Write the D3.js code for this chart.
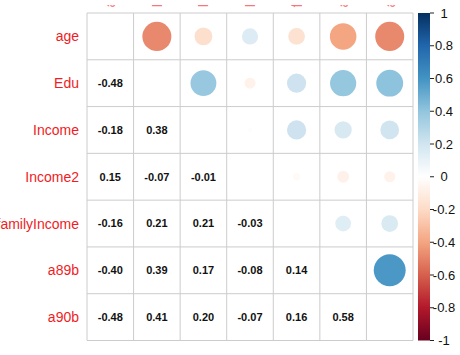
<!DOCTYPE html>
<html>
<head>
<meta charset="utf-8">
<script src="https://cdn.jsdelivr.net/npm/d3@7"></script>
<style>
  html, body { margin: 0; padding: 0; background: #fff; }
  svg { display: block; font-family: "Liberation Sans", Arial, sans-serif; }
</style>
</head>
<body>
<svg id="chart" width="460" height="355"></svg>
<script>
// Variables in the correlation matrix (row and column order)
const variables = ["age", "Edu", "Income", "Income2", "familyIncome", "a89b", "a90b"];

// Lower triangle of the correlation matrix, one row per variable
const lowerRows = [
  [],
  [-0.48],
  [-0.18, 0.38],
  [0.15, -0.07, -0.01],
  [-0.16, 0.21, 0.21, -0.03],
  [-0.40, 0.39, 0.17, -0.08, 0.14],
  [-0.48, 0.41, 0.20, -0.07, 0.16, 0.58]
];

// Colour legend ticks
const legendTicks = [1, 0.8, 0.6, 0.4, 0.2, 0, -0.2, -0.4, -0.6, -0.8, -1];
const legendLabels = ["1", "0.8", "0.6", "0.4", "0.2", "0", "-0.2", "-0.4", "-0.6", "-0.8", "-1"];

// Diverging red-blue palette, from -1 to 1
const palette = ["#67001F", "#B2182B", "#D6604D", "#F4A582", "#FDDBC7", "#FFFFFF",
                 "#D1E5F0", "#92C5DE", "#4393C3", "#2166AC", "#053061"];

const n = variables.length;
const value = (i, j) => (i > j ? lowerRows[i][j] : lowerRows[j][i]);

const svg = d3.select("#chart");
const grid = { left: 87, right: 413, top: 13, bottom: 340.5 };

const x = d3.scaleBand().domain(variables).range([grid.left, grid.right]);
const y = d3.scaleBand().domain(variables).range([grid.top, grid.bottom]);
const color = d3.scaleLinear()
  .domain(d3.range(palette.length).map(k => -1 + 2 * k / (palette.length - 1)))
  .range(palette)
  .interpolate(d3.interpolateRgb);
const radius = r => Math.sqrt(Math.abs(r)) * 0.45 * Math.min(x.bandwidth(), y.bandwidth());

// Cells
const cells = [];
for (let i = 0; i < n; i++) for (let j = 0; j < n; j++) {
  if (i !== j) cells.push({ i, j, r: value(i, j) });
}

// Circles in the upper triangle
svg.append("g").selectAll("circle")
  .data(cells.filter(d => d.j > d.i))
  .join("circle")
  .attr("cx", d => x(variables[d.j]) + x.bandwidth() / 2)
  .attr("cy", d => y(variables[d.i]) + y.bandwidth() / 2)
  .attr("r", d => radius(d.r))
  .attr("fill", d => color(d.r));

// Coefficients in the lower triangle
svg.append("g").selectAll("text")
  .data(cells.filter(d => d.j < d.i))
  .join("text")
  .attr("x", d => x(variables[d.j]) + x.bandwidth() / 2)
  .attr("y", d => y(variables[d.i]) + y.bandwidth() / 2)
  .attr("dy", "0.36em")
  .attr("text-anchor", "middle")
  .attr("font-size", 11)
  .attr("font-weight", "bold")
  .attr("fill", "#111")
  .text(d => d.r.toFixed(2));

// Grid lines
const gridG = svg.append("g").attr("stroke", "#cccccc").attr("stroke-width", 1);
const xEdges = variables.map(v => x(v)).concat([grid.right]);
const yEdges = variables.map(v => y(v)).concat([grid.bottom]);
gridG.selectAll("line.v").data(xEdges).join("line").attr("class", "v")
  .attr("x1", d => d).attr("x2", d => d)
  .attr("y1", grid.top).attr("y2", grid.bottom);
gridG.selectAll("line.h").data(yEdges).join("line").attr("class", "h")
  .attr("y1", d => d).attr("y2", d => d)
  .attr("x1", grid.left).attr("x2", grid.right);

// Row labels
svg.append("g").selectAll("text")
  .data(variables)
  .join("text")
  .attr("x", 79)
  .attr("y", d => y(d) + y.bandwidth() / 2)
  .attr("dy", "0.36em")
  .attr("text-anchor", "end")
  .attr("font-size", 14)
  .attr("fill", "#f01c24")
  .text(d => d);

// Column labels, vertical, cut off by the top edge of the figure
svg.append("defs").append("clipPath").attr("id", "topClip")
  .append("rect").attr("x", 0).attr("y", 5).attr("width", 460).attr("height", 2.5);
svg.append("g").attr("clip-path", "url(#topClip)").attr("opacity", 0.6).selectAll("text")
  .data(variables)
  .join("text")
  .attr("transform", d => `translate(${x(d) + x.bandwidth() / 2},7.5) rotate(-90)`)
  .attr("dy", "0.36em")
  .attr("text-anchor", "start")
  .attr("font-size", 14)
  .attr("fill", "#f01c24")
  .text(d => d);

// Colour legend
const bar = { x: 418, w: 12, top: 13, bottom: 340.5 };
const grad = svg.select("defs").append("linearGradient")
  .attr("id", "corrGrad").attr("x1", 0).attr("y1", 1).attr("x2", 0).attr("y2", 0);
grad.selectAll("stop").data(palette).join("stop")
  .attr("offset", (d, k) => k / (palette.length - 1))
  .attr("stop-color", d => d);
svg.append("rect")
  .attr("x", bar.x).attr("y", bar.top)
  .attr("width", bar.w).attr("height", bar.bottom - bar.top)
  .attr("fill", "url(#corrGrad)");

const ly = d3.scaleLinear().domain([-1, 1]).range([bar.bottom, bar.top]);
const legendG = svg.append("g");
legendG.selectAll("line").data(legendTicks).join("line")
  .attr("x1", bar.x + bar.w).attr("x2", bar.x + bar.w + 4)
  .attr("y1", d => ly(d)).attr("y2", d => ly(d))
  .attr("stroke", "#222").attr("stroke-width", 1);
legendG.selectAll("text").data(legendTicks).join("text")
  .attr("x", 444)
  .attr("y", d => ly(d))
  .attr("dy", "0.36em")
  .attr("text-anchor", "middle")
  .attr("font-size", 13)
  .attr("fill", "#111")
  .text((d, k) => legendLabels[k]);
</script>
</body>
</html>
